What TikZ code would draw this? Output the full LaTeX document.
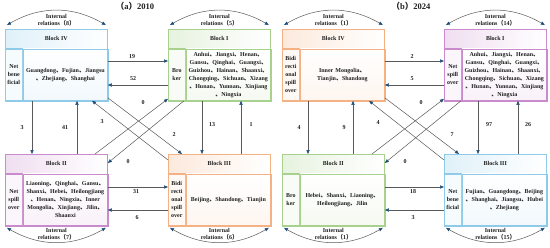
\documentclass[tikz,border=0pt]{standalone}
\usepackage{fontspec}
\setmainfont{Liberation Serif}
\newfontfamily\cjk{Noto Sans CJK SC}
\usetikzlibrary{arrows.meta,calc}
\newcommand\cdn{{\cjk 、}}
\newcommand\clp{{\cjk （}}
\newcommand\crp{{\cjk ）}}
\definecolor{cblue}{HTML}{8FCBE8}
\definecolor{cgreen}{HTML}{A9D18E}
\definecolor{cpurple}{HTML}{C98BCB}
\definecolor{corange}{HTML}{F4B183}
\definecolor{lgray}{HTML}{595959}
\definecolor{tipc}{HTML}{1F4E79}
\newcommand\blk[7]{%
  \node[hdr, left color=#4!28, right color=white, draw=#4] (#1h) at (#2,#3) {#5};
  \node[sidebox, fill=#4!8, draw=#4] (#1s) at (#1h.south west) {#6};
  \node[bodybox, top color=white, bottom color=#4!12, draw=#4] (#1b) at (#1s.north east) {#7};
  \node[frame, draw=#4] (#1) at (#2,#3) {};
}
\newcommand\irtop[2]{%
  \draw[biarr] ([xshift=2pt,yshift=4pt]#1.north west) to[bend left=30] ([xshift=-2pt,yshift=4pt]#1.north east);
  \node[irl] (#1ir) at ($(#1.north)+(0,-8.5)$) {Internal\\relations\clp#2\crp};
}
\newcommand\irbot[2]{%
  \draw[biarr] ([xshift=2pt,yshift=-2pt]#1.south west) to[bend right=30] ([xshift=-2pt,yshift=-2pt]#1.south east);
  \node[irl] (#1ir) at ($(#1.south)+(0,8)$) {Internal\\relations\clp#2\crp};
}
\begin{document}
\begin{tikzpicture}[x=1pt,y=-1pt,
  every node/.style={font=\fontsize{6}{8}\selectfont\bfseries, text=black!88},
  hdr/.style={anchor=north west, minimum width=102pt, minimum height=19pt, inner sep=0pt, line width=0.6pt},
  sidebox/.style={anchor=north west, minimum width=17pt, text width=17pt, minimum height=52pt, inner sep=0pt, align=center, line width=0.6pt},
  bodybox/.style={anchor=north west, minimum width=85pt, text width=85pt, minimum height=52pt, inner sep=0pt, align=center, line width=0.6pt},
  frame/.style={anchor=north west, minimum width=102pt, minimum height=71pt, inner sep=0pt, line width=0.8pt},
  arr/.style={draw=lgray, line width=0.5pt, -{Triangle[length=4pt,width=3.2pt,color=tipc]}},
  biarr/.style={draw=lgray, line width=0.5pt, {Triangle[length=4pt,width=3.2pt,color=tipc]}-{Triangle[length=4pt,width=3.2pt,color=tipc]}},
  lbl/.style={inner sep=0.5pt},
  irl/.style={align=center, inner sep=0pt, font=\fontsize{6}{7}\selectfont\bfseries},
  ttl/.style={font=\fontsize{8.5}{10}\selectfont\bfseries}]
\fill[white] (0,0) rectangle (550,247);
\useasboundingbox (0,0) rectangle (550,247);

% titles
\node[ttl] (ta) at (135,6.5) {\clp a\crp 2010};
\node[ttl] (tb) at (411,6.5) {\clp b\crp 2024};

% ===== panel (a)
\blk{aIV}{5}{29}{cblue}{Block IV}{Net\\bene\\ficial}{Guangdong\cdn Fujian\cdn Jiangsu\\\cdn Zhejiang\cdn Shanghai}
\blk{aI}{168}{29}{cgreen}{Block I}{Bro\\ker}{Anhui\cdn Jiangxi\cdn Henan\cdn\\Gansu\cdn Qinghai\cdn Guangxi\cdn\\Guizhou\cdn Hainan\cdn Shaanxi\cdn\\Chongqing\cdn Sichuan\cdn Xizang\\\cdn Hunan\cdn Yunnan\cdn Xinjiang\\\cdn Ningxia}
\blk{aII}{5}{154}{cpurple}{Block II}{Net\\spill\\over}{Liaoning\cdn Qinghai\cdn Gansu\cdn\\Shanxi\cdn Hebei\cdn Heilongjiang\\\cdn Henan\cdn Ningxia\cdn Inner\\Mongolia\cdn Xinjiang\cdn Jilin\cdn\\Shaanxi}
\blk{aIII}{168}{154}{corange}{Block III}{Bidi\\recti\\onal\\spill\\over}{Beijing\cdn Shandong\cdn Tianjin}

\irtop{aIV}{8}
\irtop{aI}{5}
\irbot{aII}{7}
\irbot{aIII}{6}

\draw[arr] (aIV.east |- 0,61) -- (aI.west |- 0,61);
\draw[arr] (aI.west |- 0,85) -- (aIV.east |- 0,85);
\draw[arr] (aIV.south -| 32,0) -- (aII.north -| 32,0);
\draw[arr] (aII.north -| 77,0) -- (aIV.south -| 77,0);
\draw[arr] (aI.south -| 202,0) -- (aIII.north -| 202,0);
\draw[arr] (aIII.north -| 241,0) -- (aI.south -| 241,0);
\draw[arr] (aII.east |- 0,187) -- (aIII.west |- 0,187);
\draw[arr] (aIII.west |- 0,210) -- (aII.east |- 0,210);
\draw[arr] ([yshift=3pt]aIV.south east) -- (aIII.north -| 182,0);
\draw[arr] (aIII.west |- 0,160) -- (aIV.south -| 92,0);
\draw[arr] (aII.north -| 95,0) -- ([yshift=2pt]aI.south west);
\draw[arr] (aI.south -| 184,0) -- (aII.east |- 0,163);

\node[lbl] (la1) at (132,57) {19};
\node[lbl] (la2) at (133,79) {52};
\node[lbl] (la3) at (22,128) {3};
\node[lbl] (la4) at (65,128) {41};
\node[lbl] (la5) at (212,125) {13};
\node[lbl] (la6) at (251,125) {1};
\node[lbl] (la7) at (136,192) {31};
\node[lbl] (la8) at (137,218) {6};
\node[lbl] (la9) at (102,122) {3};
\node[lbl] (la10) at (143,103) {0};
\node[lbl] (la11) at (174,135) {2};
\node[lbl] (la12) at (128,162) {0};

% ===== panel (b)
\blk{bIV}{282}{29}{corange}{Block IV}{Bidi\\recti\\onal\\spill\\over}{Inner Mongolia\cdn\\Tianjin\cdn Shandong}
\blk{bI}{444}{29}{cpurple}{Block I}{Net\\spill\\over}{Anhui\cdn Jiangxi\cdn Henan\cdn\\Gansu\cdn Qinghai\cdn Guangxi\cdn\\Guizhou\cdn Hainan\cdn Shaanxi\cdn\\Chongqing\cdn Sichuan\cdn Xizang\\\cdn Hunan\cdn Yunnan\cdn Xinjiang\\\cdn Ningxia}
\blk{bII}{282}{154}{cgreen}{Block II}{Bro\\ker}{Hebei\cdn Shanxi\cdn Liaoning\cdn\\Heilongjiang\cdn Jilin}
\blk{bIII}{444}{154}{cblue}{Block III}{Net\\bene\\ficial}{Fujian\cdn Guangdong\cdn Beijing\\\cdn Shanghai\cdn Jiangsu\cdn Hubei\\\cdn Zhejiang}

\irtop{bIV}{1}
\irtop{bI}{14}
\irbot{bII}{1}
\irbot{bIII}{15}

\draw[arr] (bIV.east |- 0,61) -- (bI.west |- 0,61);
\draw[arr] (bI.west |- 0,85) -- (bIV.east |- 0,85);
\draw[arr] (bIV.south -| 308,0) -- (bII.north -| 308,0);
\draw[arr] (bII.north -| 353,0) -- (bIV.south -| 353,0);
\draw[arr] (bI.south -| 478,0) -- (bIII.north -| 478,0);
\draw[arr] (bIII.north -| 518,0) -- (bI.south -| 518,0);
\draw[arr] (bII.east |- 0,187) -- (bIII.west |- 0,187);
\draw[arr] (bIII.west |- 0,210) -- (bII.east |- 0,210);
\draw[arr] ([yshift=3pt]bIV.south east) -- (bIII.north -| 459,0);
\draw[arr] (bIII.west |- 0,160) -- (bIV.south -| 369,0);
\draw[arr] (bII.north -| 372,0) -- ([yshift=2pt]bI.south west);
\draw[arr] (bI.south -| 461,0) -- (bII.east |- 0,163);

\node[lbl] (lb1) at (412,57) {2};
\node[lbl] (lb2) at (412,79) {5};
\node[lbl] (lb3) at (299,128) {4};
\node[lbl] (lb4) at (344,128) {9};
\node[lbl] (lb5) at (489,125) {97};
\node[lbl] (lb6) at (528,125) {26};
\node[lbl] (lb7) at (413,192) {18};
\node[lbl] (lb8) at (413,218) {3};
\node[lbl] (lb9) at (378,123) {4};
\node[lbl] (lb10) at (421,103) {0};
\node[lbl] (lb11) at (452,135) {7};
\node[lbl] (lb12) at (405,162) {0};
\end{tikzpicture}
\end{document}
